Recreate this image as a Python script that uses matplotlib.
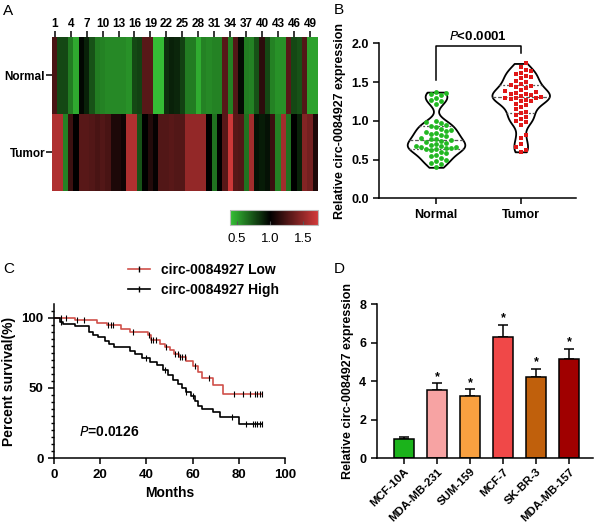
import numpy as np
import matplotlib
matplotlib.use('Agg')
import matplotlib.pyplot as plt
from matplotlib.colors import LinearSegmentedColormap
from matplotlib.lines import Line2D

plt.rcParams['font.family'] = ['Liberation Sans', 'DejaVu Sans']

# ---- panel A: heatmap values (per sample) ----
normal_heat = [1.25, 0.78, 0.78, 0.62, 0.48, 0.98, 0.9, 0.75, 0.62, 0.6,
               0.58, 0.58, 0.58, 0.58, 0.55, 0.78, 0.8, 1.3, 1.3, 0.42,
               0.42, 0.85, 0.9, 0.88, 0.8, 0.62, 0.62, 0.47, 0.6, 0.58,
               0.6, 0.6, 1.3, 0.6, 1.28, 0.97, 0.62, 0.6, 0.75, 1.15,
               0.78, 0.6, 0.55, 0.55, 1.3, 0.78, 0.75, 1.28, 0.5, 0.5]
tumor_heat = [1.6, 1.6, 0.6, 1.2, 1.0, 1.3, 1.3, 1.28, 1.25, 1.28,
              1.25, 1.1, 1.1, 1.05, 1.6, 1.6, 0.75, 1.0, 1.12, 1.02,
              1.28, 1.28, 1.3, 1.28, 1.28, 1.5, 1.5, 1.5, 1.5, 1.0,
              0.65, 1.0, 1.3, 1.7, 1.3, 1.28, 0.65, 1.55, 0.95, 0.92,
              0.95, 1.2, 0.6, 1.55, 0.65, 1.0, 0.9, 1.45, 1.4, 1.1]
heat_rows = ['Normal', 'Tumor']
heat_ticks = list(range(1, 50, 3))

# ---- panel B: violin data ----
normal_expr = [1.37, 1.36, 1.35, 1.33, 1.30, 1.27, 1.25, 1.22,
               1.00, 0.98, 0.97, 0.95, 0.93, 0.92, 0.90, 0.88, 0.87, 0.85,
               0.84, 0.83, 0.82, 0.80, 0.78, 0.77, 0.76, 0.75, 0.74, 0.73,
               0.72, 0.70, 0.69, 0.68, 0.67, 0.66, 0.66, 0.65, 0.65, 0.64,
               0.63, 0.62, 0.60, 0.58, 0.56, 0.54, 0.52, 0.50, 0.48, 0.46,
               0.44, 0.40]
tumor_expr = [1.74, 1.70, 1.66, 1.64, 1.62, 1.60, 1.58, 1.56, 1.55, 1.52,
              1.50, 1.48, 1.46, 1.45, 1.43, 1.42, 1.40, 1.38, 1.37, 1.36,
              1.35, 1.34, 1.33, 1.32, 1.31, 1.30, 1.30, 1.29, 1.28, 1.27,
              1.26, 1.25, 1.22, 1.20, 1.18, 1.15, 1.12, 1.10, 1.08, 1.05,
              1.02, 1.00, 0.98, 0.95, 0.82, 0.78, 0.70, 0.66, 0.62, 0.60]

# ---- panel C: Kaplan-Meier steps ----
low_t = [0, 9, 18.6, 23, 29, 33, 40.5, 42, 46, 48, 50, 52, 54, 57, 60, 62.5, 64, 69, 73, 90]
low_s = [100, 98.5, 96, 94.5, 92, 90, 87.5, 84, 81.5, 79, 77, 74.5, 72, 69, 65.5, 61.5, 57, 52, 46, 46]
low_cens = [3, 5, 10, 13, 23.5, 24.5, 25.5, 34, 41, 42, 43, 44, 48.5, 52.5, 53.5, 54.5, 55.5, 56.5,
            61, 67, 78, 82, 85, 87, 88, 89, 90]
high_t = [0, 2.5, 4, 9, 15, 17, 19, 22, 24, 26, 33, 35, 38, 41.5, 44.5, 47, 49.5, 51.5, 53.5,
          55.5, 57, 59.5, 61, 62.5, 64, 69, 72, 80, 90]
high_s = [100, 97, 95.5, 94, 90, 88, 86.5, 83.5, 81.5, 79, 76, 74, 71.5, 68.5, 66, 63, 59.5, 56,
          53, 50, 47, 44, 40.5, 37, 35, 33, 29.5, 24.5, 24.5]
high_cens = [3, 40, 48, 57, 60, 77, 83, 86, 87, 88, 89, 90]

# ---- panel D: cell lines ----
cell_lines = ['MCF-10A', 'MDA-MB-231', 'SUM-159', 'MCF-7', 'SK-BR-3', 'MDA-MB-157']
cell_expr = [1.0, 3.55, 3.25, 6.3, 4.2, 5.15]
cell_err = [0.1, 0.35, 0.33, 0.65, 0.45, 0.55]
cell_colors = ['#1bb31b', '#f7a3a3', '#f8a040', '#f04848', '#c0600c', '#a00000']

fig = plt.figure(figsize=(6, 5.28), dpi=100)


def style_axes(ax, lw=1.1, size=9):
    for s in ['top', 'right']:
        ax.spines[s].set_visible(False)
    for s in ['left', 'bottom']:
        ax.spines[s].set_linewidth(lw)
    ax.tick_params(width=lw, length=4, labelsize=size)
    for lab in ax.get_xticklabels() + ax.get_yticklabels():
        lab.set_fontweight('bold')


# ===== A: heatmap =====
axA = fig.add_axes([0.0867, 0.6383, 0.4433, 0.2917])
cmap = LinearSegmentedColormap.from_list(
    'gbr', [(0.0, '#36c236'), ((1.0 - 0.4) / 1.32, '#000000'), (1.0, '#d23a3a')])
heat = np.array([normal_heat, tumor_heat])
im = axA.pcolormesh(np.arange(0.5, 51, 1), [0, 1, 2], heat, cmap=cmap, vmin=0.4, vmax=1.72)
axA.set_xlim(0.5, 50.5)
axA.set_ylim(2, 0)
axA.xaxis.tick_top()
axA.set_xticks(heat_ticks)
axA.set_xticklabels([str(t) for t in heat_ticks], fontsize=8.5, fontweight='bold')
axA.set_yticks([0.5, 1.5])
axA.set_yticklabels(heat_rows, fontsize=8.5, fontweight='bold')
axA.tick_params(length=4, width=1.1, pad=1)
for s in axA.spines.values():
    s.set_visible(False)

cax = fig.add_axes([0.3833, 0.5739, 0.1467, 0.0284])
cb = fig.colorbar(im, cax=cax, orientation='horizontal', ticks=[0.5, 1.0, 1.5])
cb.ax.tick_params(labelsize=9.5, length=3, direction='in', color='#555555', pad=6)
cb.ax.set_xticklabels(['0.5', '1.0', '1.5'])
cb.outline.set_edgecolor('#bbbbbb')

# ===== B: violin =====
axB = fig.add_axes([0.6317, 0.6244, 0.3283, 0.2936])
vp = axB.violinplot([normal_expr, tumor_expr], positions=[0, 1], widths=0.68,
                    showextrema=False, bw_method=0.28)
for body in vp['bodies']:
    body.set_facecolor('white')
    body.set_edgecolor('black')
    body.set_linewidth(1.3)
    body.set_alpha(1)


def swarm(vals, center, step=0.06, min_px=5.0):
    placed = []
    for v in sorted(vals):
        for k in [0, 1, -1, 2, -2, 3, -3, 4, -4, 5, -5]:
            x = center + k * step
            if all(np.hypot((x - px) * 84.7, (v - py) * 77.5) >= min_px for px, py in placed):
                break
        placed.append((x, v))
    return np.array(placed)


for i, (vals, col, mk, sz) in enumerate([(normal_expr, '#22b822', 'o', 12),
                                         (tumor_expr, '#e01818', 's', 9)]):
    body = vp['bodies'][i]
    verts = body.get_paths()[0].vertices
    right = verts[verts[:, 0] >= i]
    order = np.argsort(right[:, 1])
    for q, ls in zip(np.percentile(vals, [25, 50, 75]), [(0, (1.5, 1.5)), (0, (3, 1.5)), (0, (1.5, 1.5))]):
        hw = np.interp(q, right[order, 1], right[order, 0]) - i
        axB.plot([i - hw, i + hw], [q, q], color='#555555', lw=0.9, linestyle=ls, zorder=2)
    pts = swarm(vals, i)
    axB.scatter(pts[:, 0], pts[:, 1], s=sz, marker=mk, color=col, zorder=3, linewidths=0)

axB.plot([0, 0, 1, 1], [1.53, 1.96, 1.96, 1.87], color='black', lw=1.1)
axB.text(0.5, 2.0, r'$\bf{\it{P}}$<0.0001', ha='center', va='bottom', fontsize=9.5, fontweight='bold')
axB.set_xlim(-0.673, 1.653)
axB.set_ylim(0, 2.0)
axB.set_yticks([0, 0.5, 1.0, 1.5, 2.0])
axB.set_yticklabels(['0.0', '0.5', '1.0', '1.5', '2.0'])
axB.set_xticks([0, 1])
axB.set_xticklabels(['Normal', 'Tumor'])
axB.set_ylabel('Relative circ-0084927 expression', fontsize=9, fontweight='bold')
axB.spines['left'].set_bounds(0, 2.0)
style_axes(axB)

# ===== C: survival =====
axC = fig.add_axes([0.09, 0.132, 0.385, 0.293])


def surv_at(t, times, surv):
    idx = np.searchsorted(times, t, side='right') - 1
    return np.array(surv)[idx]


axC.step(low_t, low_s, where='post', color='#d0504a', lw=1.2)
axC.step(high_t, high_s, where='post', color='black', lw=1.2)
axC.plot(low_cens, surv_at(low_cens, low_t, low_s), linestyle='none', marker='|',
         color='black', ms=4, mew=0.8)
axC.plot(high_cens, surv_at(high_cens, high_t, high_s), linestyle='none', marker='|',
         color='black', ms=4, mew=0.8)
axC.set_xlim(0, 100)
axC.set_ylim(0, 110)
axC.set_yticks([0, 50, 100])
axC.set_yticks(np.arange(0, 106, 5), minor=True)
axC.set_xticks([0, 20, 40, 60, 80, 100])
axC.tick_params(which='minor', length=2.5, width=1.0)
axC.set_xlabel('Months', fontsize=10, fontweight='bold')
axC.set_ylabel('Percent survival(%)', fontsize=10, fontweight='bold')
axC.text(11, 16, r'$\bf{\it{P}}$=0.0126', fontsize=10, fontweight='bold')
handles = [Line2D([], [], color='#d0504a', lw=1.2, marker='|', ms=5, mec='black'),
           Line2D([], [], color='black', lw=1.2, marker='|', ms=5, mec='black')]
leg = axC.legend(handles, ['circ-0084927 Low', 'circ-0084927 High'], loc='lower right',
                 bbox_to_anchor=(1.03, 0.96), frameon=False, handlelength=1.6,
                 prop={'weight': 'bold', 'size': 10}, labelspacing=0.45)
style_axes(axC, size=9.5)

# ===== D: bars =====
axD = fig.add_axes([0.6278, 0.132, 0.3605, 0.2917])
xs = np.arange(len(cell_lines))
axD.bar(xs, cell_expr, width=0.6, color=cell_colors, edgecolor='black', linewidth=1.1, zorder=2)
axD.errorbar(xs, cell_expr, yerr=[np.zeros(len(cell_err)), cell_err], fmt='none',
             ecolor='black', elinewidth=1.1, capsize=3.5, capthick=1.1, zorder=1)
for x, v, e in list(zip(xs, cell_expr, cell_err))[1:]:
    axD.text(x, v + e + 0.02, '*', ha='center', va='bottom', fontsize=9, fontweight='bold')
axD.set_xlim(-0.826, 5.72)
axD.set_ylim(0, 8)
axD.set_yticks([0, 2, 4, 6, 8])
axD.set_xticks(xs)
axD.set_xticklabels(cell_lines, rotation=45, ha='right', rotation_mode='anchor')
axD.set_ylabel('Relative circ-0084927 expression', fontsize=9, fontweight='bold')
style_axes(axD)
axD.tick_params(axis='x', labelsize=8.2, pad=2)

# panel letters
for lab, x, y in [('A', 0.005, 0.965), ('B', 0.557, 0.968), ('C', 0.005, 0.478), ('D', 0.557, 0.478)]:
    fig.text(x, y, lab, fontsize=11, va='bottom')

fig.savefig('out.png', dpi=100)
